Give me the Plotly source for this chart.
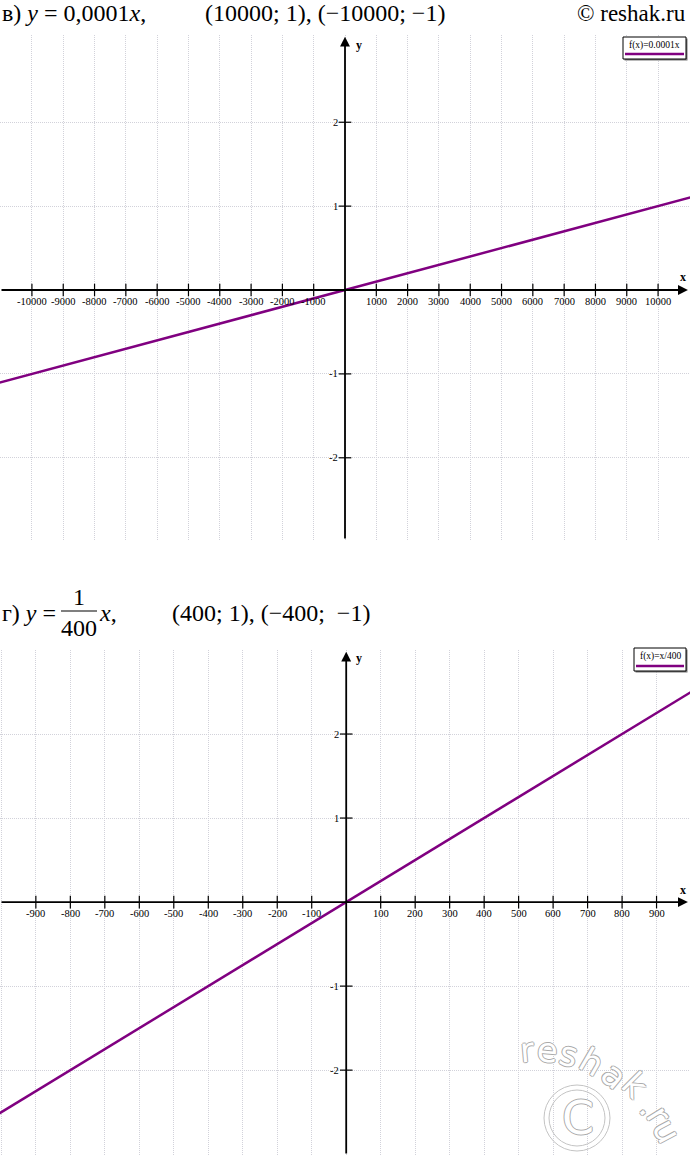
import plotly.graph_objects as go

W, H = 690, 1155
PURPLE = '#800080'
SERIF = 'Liberation Serif'

# top panel (в) y = 0,0001x
top_line_x = [-11100, 11100]
top_line_y = [-1.11, 1.11]
top_xticks = [-10000, -9000, -8000, -7000, -6000, -5000, -4000, -3000, -2000, -1000,
              1000, 2000, 3000, 4000, 5000, 6000, 7000, 8000, 9000, 10000]
top_yticks = [-2, -1, 1, 2]
top_legend = 'f(x)=0.0001x'

# bottom panel (г) y = x/400
bot_line_x = [-1010, 1010]
bot_line_y = [-2.525, 2.525]
bot_xticks = [-900, -800, -700, -600, -500, -400, -300, -200, -100,
              100, 200, 300, 400, 500, 600, 700, 800, 900]
bot_yticks = [-2, -1, 1, 2]
bot_legend = 'f(x)=x/400'

# watermark letters
wm_chars = ['r', 'e', 's', 'h', 'a', 'k', '.', 'r', 'u']
wm_x = [527, 547, 569, 592, 614, 635, 650, 659, 667]
wm_y = [1050, 1050, 1054, 1062, 1075, 1085, 1106, 1115, 1131]
wm_rot = [-5, 5, 15, 30, 40, 45, 50, 58, 62]


def px(x):
    return x / W


def py(y):
    return 1 - y / H


def note(x, y, text, font, **kw):
    d = dict(x=px(x), y=py(y), xref='paper', yref='paper', text=text, showarrow=False,
             xanchor='center', yanchor='middle', font=font)
    d.update(kw)
    return d


fig = go.Figure()

fig.add_trace(go.Scatter(x=top_line_x, y=top_line_y, mode='lines',
                         line=dict(color=PURPLE, width=2.5), xaxis='x', yaxis='y'))
fig.add_trace(go.Scatter(x=bot_line_x, y=bot_line_y, mode='lines',
                         line=dict(color=PURPLE, width=2.5), xaxis='x2', yaxis='y2'))

# tick marks on the axes
for xa, ya, xt, yt in [('x', 'y', top_xticks, top_yticks), ('x2', 'y2', bot_xticks, bot_yticks)]:
    fig.add_trace(go.Scatter(x=xt, y=[0] * len(xt), mode='markers', xaxis=xa, yaxis=ya,
                             marker=dict(symbol='line-ns', size=9, line=dict(width=1.2, color='black'))))
    fig.add_trace(go.Scatter(x=[0] * len(yt), y=yt, mode='markers', xaxis=xa, yaxis=ya,
                             marker=dict(symbol='line-ew', size=9, line=dict(width=1.2, color='black'))))

grid = dict(showgrid=True, gridcolor='#d2d2da', griddash='1px,1px', gridwidth=1,
            zeroline=False, showline=False, showticklabels=False, ticks='', fixedrange=True)

annotations = []
shapes = []
tick_font = dict(family=SERIF, size=10.5, color='black')


def panel(xa, ya, xt, yt, xr, yr, legend, leg_box, x_lab_y, y_lab_y):
    # axes with arrows
    annotations.append(dict(x=xr[1] - (xr[1] - xr[0]) * 0.003, y=0, ax=xr[0], ay=0,
                            xref=xa, yref=ya, axref=xa, ayref=ya, text='',
                            showarrow=True, arrowhead=2, arrowsize=1.1, arrowwidth=1.8,
                            arrowcolor='black'))
    annotations.append(dict(x=0, y=yr[1] - 0.02, ax=0, ay=yr[0], xref=xa, yref=ya,
                            axref=xa, ayref=ya, text='', showarrow=True, arrowhead=2,
                            arrowsize=1.1, arrowwidth=1.8, arrowcolor='black'))
    for v in xt:
        annotations.append(dict(x=v, y=0, xref=xa, yref=ya, text=str(v), showarrow=False,
                                xanchor='center', yanchor='middle', yshift=-11, font=tick_font))
    for v in yt:
        annotations.append(dict(x=0, y=v, xref=xa, yref=ya, text=str(v), showarrow=False,
                                xanchor='right', yanchor='middle', xshift=-5, font=tick_font))
    annotations.append(note(683, x_lab_y, '<b>x</b>', dict(family=SERIF, size=12, color='black')))
    annotations.append(note(359, y_lab_y, '<b>y</b>', dict(family=SERIF, size=12, color='black')))
    # legend box
    x0, y0, x1, y1 = leg_box
    shapes.append(dict(type='rect', xref='paper', yref='paper', x0=px(x0 + 1.5), x1=px(x1 + 1.5),
                       y0=py(y1 + 1.5), y1=py(y0 + 1.5), line=dict(width=0), fillcolor='#777'))
    shapes.append(dict(type='rect', xref='paper', yref='paper', x0=px(x0), x1=px(x1),
                       y0=py(y1), y1=py(y0), line=dict(width=1, color='black'), fillcolor='white'))
    shapes.append(dict(type='line', xref='paper', yref='paper', x0=px(x0 + 2), x1=px(x1 - 2),
                       y0=py(y1 - 5), y1=py(y1 - 5), line=dict(width=2.5, color=PURPLE)))
    annotations.append(note((x0 + x1) / 2, y0 + 8, legend, dict(family=SERIF, size=9.5, color='black')))


top_xr = [-11020, 11020]
top_yr = [-2.98, 3.04]
bot_xr = [-1004, 997]
bot_yr = [-3.01, 3.0]

panel('x', 'y', top_xticks, top_yticks, top_xr, top_yr, top_legend, (623, 37, 686, 59), 277, 45)
panel('x2', 'y2', bot_xticks, bot_yticks, bot_xr, bot_yr, bot_legend, (634, 648, 686, 671), 890, 658)

# headers
hfont = dict(family=SERIF, size=24, color='black')
annotations += [
    note(0, 13, 'в) <i>y</i> = 0,0001<i>x</i>,', hfont, xanchor='left'),
    note(203, 13, '(10000; 1), (−10000; −1)', hfont, xanchor='left'),
    note(688, 13, '© reshak.ru', dict(family=SERIF, size=23, color='black'), xanchor='right'),
    note(0, 613, 'г) <i>y</i> =', hfont, xanchor='left'),
    note(79, 597, '1', hfont),
    note(79, 628, '400', hfont),
    note(97, 613, '<i>x</i>,', hfont, xanchor='left'),
    note(170, 613, '(400; 1), (−400;  −1)', hfont, xanchor='left'),
]
shapes.append(dict(type='line', xref='paper', yref='paper', x0=px(61), x1=px(97),
                   y0=py(611), y1=py(611), line=dict(width=1.2, color='black')))

# watermark
outline = '1px 0 0 #aaa, -1px 0 0 #aaa, 0 1px 0 #aaa, 0 -1px 0 #aaa'
for ch, wx, wy, rot in zip(wm_chars, wm_x, wm_y, wm_rot):
    annotations.append(note(wx, wy, ch, dict(family='DejaVu Sans', size=34, color='white',
                                            shadow=outline), textangle=rot))
for r in [33, 28]:
    shapes.append(dict(type='circle', xref='paper', yref='paper', x0=px(577 - r), x1=px(577 + r),
                       y0=py(1118 + r), y1=py(1118 - r), line=dict(width=1, color='#c4c4c4')))
annotations.append(note(578, 1118, 'C', dict(family='DejaVu Sans', size=46, color='white', shadow=outline)))

fig.update_layout(
    width=W, height=H,
    margin=dict(l=0, r=0, t=0, b=0),
    paper_bgcolor='white', plot_bgcolor='white',
    showlegend=False,
    xaxis=dict(domain=[0, 1], range=top_xr, dtick=1000, tick0=0, anchor='y', **grid),
    yaxis=dict(domain=[py(540), py(35)], range=top_yr, tickvals=top_yticks, anchor='x', **grid),
    xaxis2=dict(domain=[0, 1], range=bot_xr, dtick=100, tick0=0, anchor='y2', **grid),
    yaxis2=dict(domain=[0, py(650)], range=bot_yr, tickvals=bot_yticks, anchor='x2', **grid),
    annotations=annotations,
    shapes=shapes,
)

fig.write_html("out.html", config={'displayModeBar': False},
               post_script="document.body.style.margin='0';")
